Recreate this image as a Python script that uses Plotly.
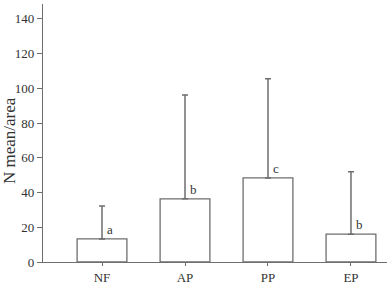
import plotly.graph_objects as go

categories = ["NF", "AP", "PP", "EP"]
means = [13.3, 36.4, 48.4, 16.0]
errors_plus = [19.0, 59.8, 57.1, 36.0]
letters = ["a", "b", "c", "b"]
y_ticks = [0, 20, 40, 60, 80, 100, 120, 140]

xpos = list(range(len(categories)))
font_family = "Liberation Serif, Times New Roman, serif"
gray = "#6e6e6e"

fig = go.Figure()
fig.add_trace(go.Bar(
    x=xpos, y=means, width=0.6,
    marker=dict(color="white", line=dict(color=gray, width=1.3)),
    error_y=dict(type="data", array=errors_plus, arrayminus=[0]*4, symmetric=False,
                 color=gray, thickness=1.5, width=3),
    showlegend=False,
))

for xi, m, l in zip(xpos, means, letters):
    fig.add_annotation(x=xi, y=m, text=l, showarrow=False, xanchor="left", yanchor="bottom",
                       xshift=3, yshift=0, font=dict(family=font_family, size=13, color="#333"))

fig.add_annotation(xref="paper", yref="paper", x=0, y=0.469, xshift=-33, text="N mean/area",
                   textangle=-90, showarrow=False, xanchor="center", yanchor="middle",
                   borderpad=0,
                   font=dict(family=font_family, size=17, color="#333"))

fig.update_layout(
    width=387, height=285,
    margin=dict(l=43, r=0, t=4, b=21),
    plot_bgcolor="white", paper_bgcolor="white",
    bargap=0.4,
)
fig.update_xaxes(range=[-0.711, 3.434], tickmode="array", tickvals=xpos, ticktext=categories,
                 showline=True, linecolor=gray, linewidth=1.2, ticks="outside", ticklen=3,
                 tickcolor=gray, showgrid=False, zeroline=False,
                 tickfont=dict(family=font_family, size=13, color="#333"))
fig.update_yaxes(range=[0, 148.6], tickvals=y_ticks, showline=True, linecolor=gray, linewidth=1.2,
                 ticks="outside", ticklen=5, tickcolor=gray, showgrid=False, zeroline=False,
                 tickfont=dict(family=font_family, size=13, color="#333"))

fig.write_html("out.html")
